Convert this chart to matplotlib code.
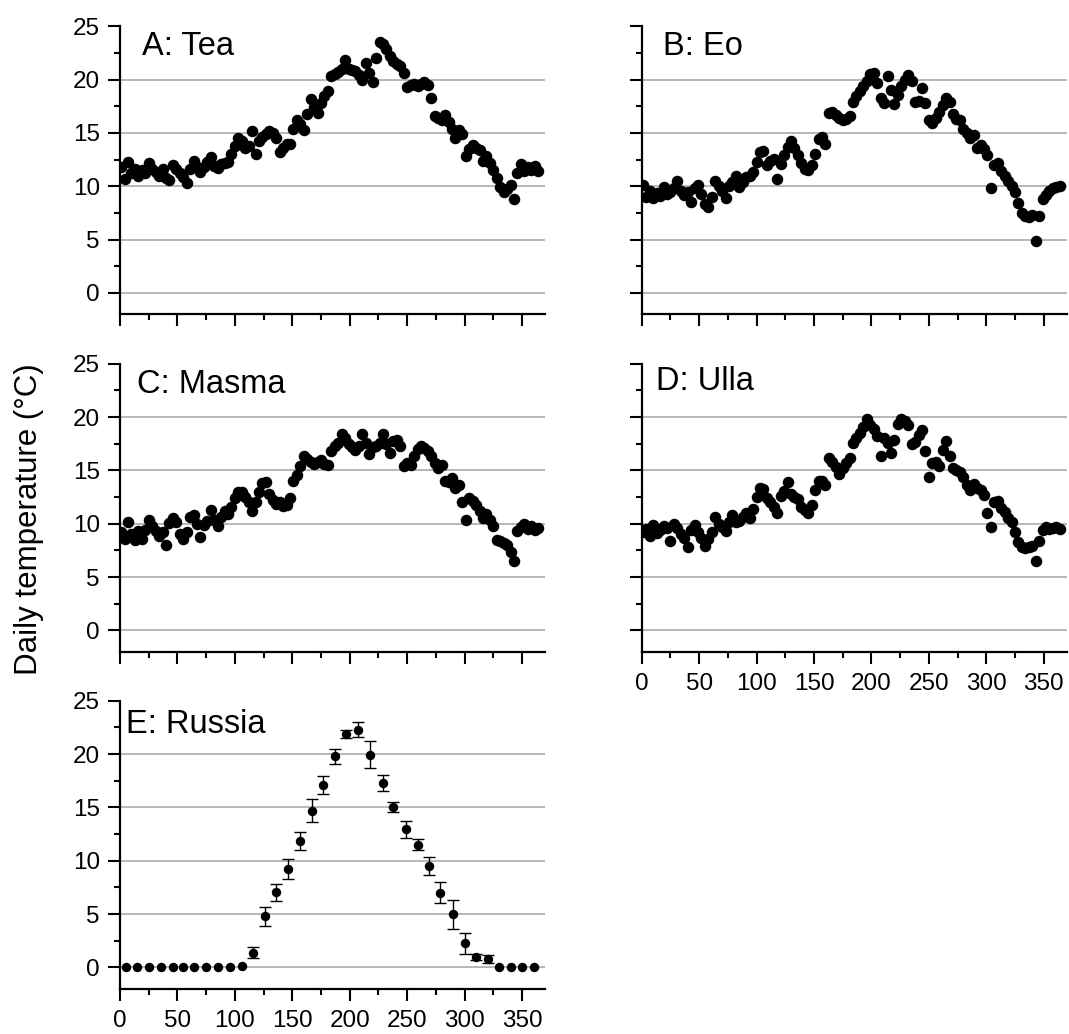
import numpy as np
import matplotlib
matplotlib.use('Agg')
import matplotlib.pyplot as plt
from matplotlib.ticker import MultipleLocator

plt.rcParams['font.family'] = ['Liberation Sans', 'DejaVu Sans']

# Daily series, every third day (day of year)
days = np.arange(1, 365, 3)

tea = [11.8, 10.7, 12.3, 11.2, 11.6, 11.0, 11.5, 11.2, 12.2, 11.6,
       11.3, 11.0, 11.6, 10.8, 10.6, 12.0, 11.6, 11.2, 10.9, 10.3,
       11.6, 12.4, 11.8, 11.3, 11.8, 12.3, 12.7, 11.9, 11.7, 12.1,
       12.2, 12.3, 13.0, 13.8, 14.5, 14.2, 13.6, 13.8, 15.2, 13.0,
       14.2, 14.6, 14.9, 15.2, 15.0, 14.5, 13.2, 13.6, 14.0, 14.0,
       15.4, 16.2, 15.8, 15.3, 16.8, 18.2, 17.4, 16.9, 17.8, 18.5,
       18.9, 20.3, 20.5, 20.7, 21.0, 21.8, 21.0, 20.9, 20.8, 20.4,
       20.0, 21.6, 20.6, 19.8, 22.0, 23.5, 23.3, 22.9, 22.2, 21.7,
       21.5, 21.3, 20.6, 19.3, 19.5, 19.6, 19.4, 19.6, 19.8, 19.5,
       18.3, 16.6, 16.4, 16.2, 16.7, 16.0, 15.4, 14.5, 15.3, 14.9,
       12.8, 13.5, 13.9, 13.6, 13.4, 12.4, 12.8, 12.2, 11.5, 10.8,
       9.9, 9.5, 9.7, 10.1, 8.8, 11.2, 12.1, 11.4, 11.8, 11.5,
       11.9, 11.4]

eo = [10.1, 9.0, 9.6, 8.9, 9.4, 9.1, 9.9, 9.3, 9.5, 9.8,
      10.5, 9.6, 9.2, 9.5, 8.5, 9.8, 10.1, 9.3, 8.3, 8.1,
      9.0, 10.5, 10.0, 9.6, 8.9, 10.0, 10.4, 11.0, 9.9, 10.4,
      10.9, 11.0, 11.3, 12.3, 13.2, 13.3, 12.0, 12.4, 12.6, 10.7,
      12.1, 12.9, 13.7, 14.2, 13.6, 12.9, 12.2, 11.6, 11.5, 12.0,
      13.0, 14.4, 14.6, 14.0, 16.9, 17.0, 16.7, 16.4, 16.2, 16.3,
      16.6, 17.9, 18.5, 18.9, 19.4, 19.9, 20.5, 20.6, 19.7, 18.3,
      17.8, 20.3, 19.0, 17.7, 18.6, 19.4, 20.0, 20.4, 19.9, 17.9,
      18.0, 19.2, 17.8, 16.2, 15.9, 16.4, 17.0, 17.6, 18.3, 17.9,
      16.8, 16.3, 16.2, 15.4, 15.0, 14.5, 14.8, 13.6, 13.9, 13.5,
      12.9, 9.8, 12.0, 12.2, 11.4, 11.0, 10.5, 10.0, 9.5, 8.4,
      7.5, 7.2, 7.1, 7.3, 4.9, 7.2, 8.8, 9.2, 9.6, 9.8,
      9.9, 10.0]

masma = [9.2, 8.6, 10.2, 9.0, 8.5, 9.3, 8.6, 9.4, 10.4, 9.8,
         9.3, 8.9, 9.2, 8.0, 10.1, 10.5, 10.2, 9.0, 8.6, 9.2,
         10.6, 10.8, 10.0, 8.8, 9.9, 10.3, 11.3, 10.4, 9.8, 10.6,
         11.2, 10.9, 11.6, 12.4, 13.0, 13.0, 12.5, 12.0, 11.2, 12.0,
         13.0, 13.8, 13.9, 12.8, 12.2, 11.9, 12.0, 11.7, 11.8, 12.4,
         14.0, 14.6, 15.4, 16.4, 16.1, 15.8, 15.6, 15.8, 16.0, 15.6,
         15.5, 16.8, 17.3, 17.6, 18.4, 18.0, 17.5, 17.2, 16.9, 17.3,
         18.4, 17.6, 16.5, 17.2, 17.3, 17.6, 18.4, 17.5, 16.6, 17.8,
         17.9, 17.3, 15.4, 15.7, 15.5, 16.4, 17.0, 17.3, 17.1, 16.8,
         16.4, 15.7, 15.2, 15.5, 14.0, 13.9, 14.3, 13.4, 13.6, 12.0,
         10.4, 12.4, 12.1, 11.8, 11.2, 10.5, 10.9, 10.4, 9.8, 8.5,
         8.4, 8.2, 8.0, 7.4, 6.5, 9.3, 9.7, 10.0, 9.5, 9.8,
         9.4, 9.6]

ulla = [9.2, 9.5, 8.9, 9.9, 9.1, 9.4, 9.8, 9.6, 8.4, 10.0,
        9.6, 9.0, 8.7, 7.8, 9.4, 9.9, 9.2, 8.7, 7.9, 8.6,
        9.2, 10.6, 10.0, 9.7, 9.3, 10.2, 10.8, 10.2, 10.3, 10.6,
        11.0, 10.5, 11.4, 12.5, 13.4, 13.3, 12.4, 12.0, 11.6, 11.0,
        12.6, 13.1, 13.9, 12.8, 12.5, 12.3, 11.6, 11.3, 11.0, 11.8,
        13.2, 14.0, 14.0, 13.6, 16.2, 15.8, 15.3, 14.7, 15.2, 15.7,
        16.2, 17.6, 18.0, 18.5, 19.1, 19.8, 19.3, 18.9, 18.2, 16.4,
        18.0, 17.6, 16.6, 17.9, 19.4, 19.8, 19.6, 19.3, 17.5, 17.7,
        18.3, 18.8, 16.8, 14.4, 15.7, 15.8, 15.4, 16.9, 17.8, 16.4,
        15.2, 15.0, 14.9, 14.4, 13.6, 13.2, 13.7, 13.4, 13.2, 12.7,
        11.0, 9.7, 12.0, 12.1, 11.5, 11.1, 10.5, 10.2, 9.2, 8.3,
        7.8, 7.7, 7.8, 7.9, 6.5, 8.4, 9.4, 9.7, 9.5, 9.6,
        9.7, 9.5]

# Russia: ten-day means with error bars
russia_day = [5, 15, 25, 36, 46, 55, 64, 75, 85, 96, 106, 116, 126, 136, 146, 157, 167, 177,
              187, 197, 207, 218, 229, 238, 249, 259, 269, 279, 290, 300, 310, 320, 330, 340, 350, 360]
russia_temp = [0, 0, 0, 0, 0, 0, 0, 0, 0, 0, 0.15, 1.4, 4.8, 7.05, 9.25, 11.85, 14.7, 17.1,
               19.8, 21.9, 22.3, 19.95, 17.3, 15.05, 12.95, 11.5, 9.5, 7.0, 5.0, 2.27, 0.97, 0.78, 0, 0, 0, 0]
russia_err = [0, 0, 0, 0, 0, 0, 0, 0, 0, 0, 0, 0.55, 0.9, 0.8, 0.95, 0.85, 1.1, 0.85,
              0.7, 0.35, 0.7, 1.25, 0.75, 0.5, 0.8, 0.5, 0.85, 1.0, 1.35, 1.0, 0.3, 0.35, 0, 0, 0, 0]

series = [('A: Tea', tea), ('B: Eo', eo), ('C: Masma', masma), ('D: Ulla', ulla)]

# Figure layout in pixels (left, top, right, bottom)
W, H = 1069, 1034
boxes = [(120, 26.3, 545, 314.3), (641.7, 26.3, 1066.7, 314.3),
         (120, 363.8, 545, 651.8), (641.7, 363.8, 1066.7, 651.8),
         (120, 700.8, 545, 988.8)]
label_pos = [(0.051, 0.900), (0.049, 0.900), (0.040, 0.899), (0.033, 0.908), (0.013, 0.888)]
show_xlabels = [False, False, False, True, True]
show_ylabels = [True, False, True, False, True]

fig = plt.figure(figsize=(W / 100, H / 100), dpi=100)


def style_axes(ax, show_x, show_y):
    ax.set_xlim(0, 370)
    ax.set_ylim(-2, 25)
    ax.spines[['top', 'right']].set_visible(False)
    for s in ['left', 'bottom']:
        ax.spines[s].set_linewidth(1.6)
    ax.xaxis.set_major_locator(MultipleLocator(50))
    ax.xaxis.set_minor_locator(MultipleLocator(25))
    ax.yaxis.set_major_locator(MultipleLocator(5))
    ax.yaxis.set_minor_locator(MultipleLocator(2.5))
    ax.tick_params(which='major', direction='out', length=8.5, width=1.5, labelsize=17.5, pad=6)
    ax.tick_params(which='minor', direction='out', length=4.5, width=1.5)
    ax.tick_params(axis='x', which='major', pad=7)
    ax.tick_params(labelbottom=show_x, labelleft=show_y)
    # grey lines at the major y ticks, none at the top one
    for y in ax.get_yticks():
        if -2 < y < 25:
            ax.axhline(y, color='#a3a3a3', linewidth=1.1, zorder=0)


axes = []
for i, (l, t, r, b) in enumerate(boxes):
    ax = fig.add_axes([l / W, 1 - b / H, (r - l) / W, (b - t) / H])
    style_axes(ax, show_xlabels[i], show_ylabels[i])
    axes.append(ax)

# Panels A-D: daily temperature
for ax, (name, temp), pos in zip(axes[:4], series, label_pos[:4]):
    ax.plot(days, temp, 'o', color='black', markersize=8.3, markeredgewidth=0, zorder=3)
    ax.text(pos[0], pos[1], name, transform=ax.transAxes, fontsize=23.5, va='baseline')

# Panel E: Russia
ax = axes[4]
rd = np.array(russia_day)
rt = np.array(russia_temp)
re = np.array(russia_err)
has_err = re > 0
ax.errorbar(rd[has_err], rt[has_err], yerr=re[has_err], fmt='none', ecolor='black',
            elinewidth=1.0, capsize=4.3, capthick=1.0, zorder=2)
ax.plot(rd, rt, 'o', color='black', markersize=6.8, markeredgewidth=0, zorder=3)
ax.text(label_pos[4][0], label_pos[4][1], 'E: Russia', transform=ax.transAxes, fontsize=23.5, va='baseline')

fig.text(0.027, 0.498, 'Daily temperature (°C)', rotation=90, ha='center', va='center', fontsize=22.5)

plt.savefig('out.png', dpi=100)
